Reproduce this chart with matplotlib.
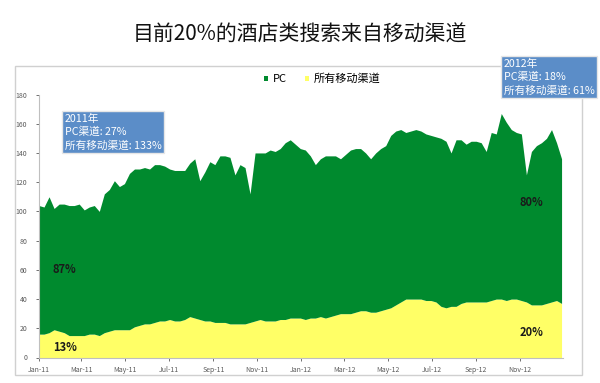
import datetime as dt
import numpy as np
import matplotlib
matplotlib.use("Agg")
import matplotlib.pyplot as plt
import matplotlib.dates as mdates
from matplotlib.patches import Rectangle

plt.rcParams['font.family'] = ['Noto Sans CJK SC', 'DejaVu Sans']

# weekly index values, Jan 2011 - Dec 2012
total = [104, 103, 110, 102, 105, 105, 104, 104, 105, 101,
         103, 104, 100, 112, 115, 121, 117, 119, 126, 129,
         129, 130, 129, 132, 132, 131, 129, 128, 128, 128,
         133, 136, 121, 127, 134, 132, 138, 138, 137, 125,
         132, 130, 112, 140, 140, 140, 142, 141, 143, 147,
         149, 146, 143, 142, 138, 132, 136, 138, 138, 138,
         136, 139, 142, 143, 143, 140, 136, 140, 143, 145,
         152, 155, 156, 154, 155, 156, 155, 153, 152, 151,
         150, 148, 140, 149, 149, 146, 148, 148, 147, 141,
         154, 153, 167, 161, 156, 154, 153, 125, 141, 145,
         147, 150, 156, 147, 136]

mobile = [16, 16, 17, 19, 18, 17, 15, 15, 15, 15,
          16, 16, 15, 17, 18, 19, 19, 19, 19, 21,
          22, 23, 23, 24, 25, 25, 26, 25, 25, 26,
          28, 27, 26, 25, 25, 24, 24, 24, 23, 23,
          23, 23, 24, 25, 26, 25, 25, 25, 26, 26,
          27, 27, 27, 26, 27, 27, 28, 27, 28, 29,
          30, 30, 30, 31, 32, 32, 31, 31, 32, 33,
          34, 36, 38, 40, 40, 40, 40, 39, 39, 38,
          35, 34, 35, 35, 37, 38, 38, 38, 38, 38,
          39, 40, 40, 39, 40, 40, 39, 38, 36, 36,
          36, 37, 38, 39, 37]

start = dt.date(2011, 1, 1)
weeks = [start + dt.timedelta(weeks=i) for i in range(len(total))]

title = '目前20%的酒店类搜索来自移动渠道'
box_2011 = '2011年\nPC渠道: 27%\n所有移动渠道: 133%'
box_2012 = '2012年\nPC渠道: 18%\n所有移动渠道: 61%'

green = '#008A2E'
yellow = '#FFFF66'
box_blue = '#5B8DC8'

fig = plt.figure(figsize=(6, 3.83), dpi=100)
fig.patch.set_facecolor('white')

# chart frame
fig.patches.append(Rectangle((15 / 600, 1 - 375 / 383), 567 / 600, 309 / 383,
                             transform=fig.transFigure, fill=False,
                             edgecolor='#D0D0D0', linewidth=1.0))

fig.text(0.5, 1 - 35 / 383, title, ha='center', va='center', fontsize=15, color='#111111')

ax = fig.add_axes([39 / 600, 1 - 357.5 / 383, 524 / 600, 263 / 383])
ax.fill_between(weeks, 0, mobile, color=yellow, linewidth=0, label='所有移动渠道')
ax.fill_between(weeks, mobile, total, color=green, linewidth=0, label='PC')

ax.set_ylim(0, 180)
ax.set_yticks(np.arange(0, 181, 20))
ax.set_xlim(dt.date(2011, 1, 1), dt.date(2012, 12, 31))
ax.xaxis.set_major_locator(mdates.MonthLocator(bymonth=[1, 3, 5, 7, 9, 11]))
ax.xaxis.set_major_formatter(mdates.DateFormatter('%b-%y'))
ax.tick_params(axis='both', labelsize=5, colors='#595959', length=2.5, width=0.6)
ax.tick_params(axis='y', pad=6)
for side in ['top', 'right']:
    ax.spines[side].set_visible(False)
for side in ['left', 'bottom']:
    ax.spines[side].set_color('#BFBFBF')
    ax.spines[side].set_linewidth(0.8)
ax.set_facecolor('none')

handles, labels = ax.get_legend_handles_labels()
fig.legend(handles[::-1], labels[::-1], loc='center', bbox_to_anchor=(322 / 600, 1 - 79 / 383),
           ncol=2, frameon=False, fontsize=8, handlelength=0.4, handleheight=0.4,
           handletextpad=0.4, columnspacing=1.6)

# percentage labels
ax.text(dt.date(2011, 1, 20), 60, '87%', fontsize=8, fontweight='bold', color='#1a1a1a', va='center')
ax.text(dt.date(2011, 1, 20), 7, '13%', fontsize=8, fontweight='bold', color='#1a1a1a', va='center')
ax.text(dt.date(2012, 11, 1), 106, '80%', fontsize=8, fontweight='bold', color='#1a1a1a', va='center')
ax.text(dt.date(2012, 11, 1), 17, '20%', fontsize=8, fontweight='bold', color='#1a1a1a', va='center')

# call-out boxes
box_style = dict(boxstyle='square,pad=0.25', facecolor=box_blue, edgecolor='#E6E6E6', linewidth=1.0)
fig.text(65 / 600, 1 - 132 / 383, box_2011, fontsize=7.7, color='white', va='center', ha='left',
         linespacing=1.35, bbox=box_style)
fig.text(504 / 600, 1 - 77 / 383, box_2012, fontsize=7.7, color='white', va='center', ha='left',
         linespacing=1.35, bbox=box_style)

fig.savefig('out.png', dpi=100)
